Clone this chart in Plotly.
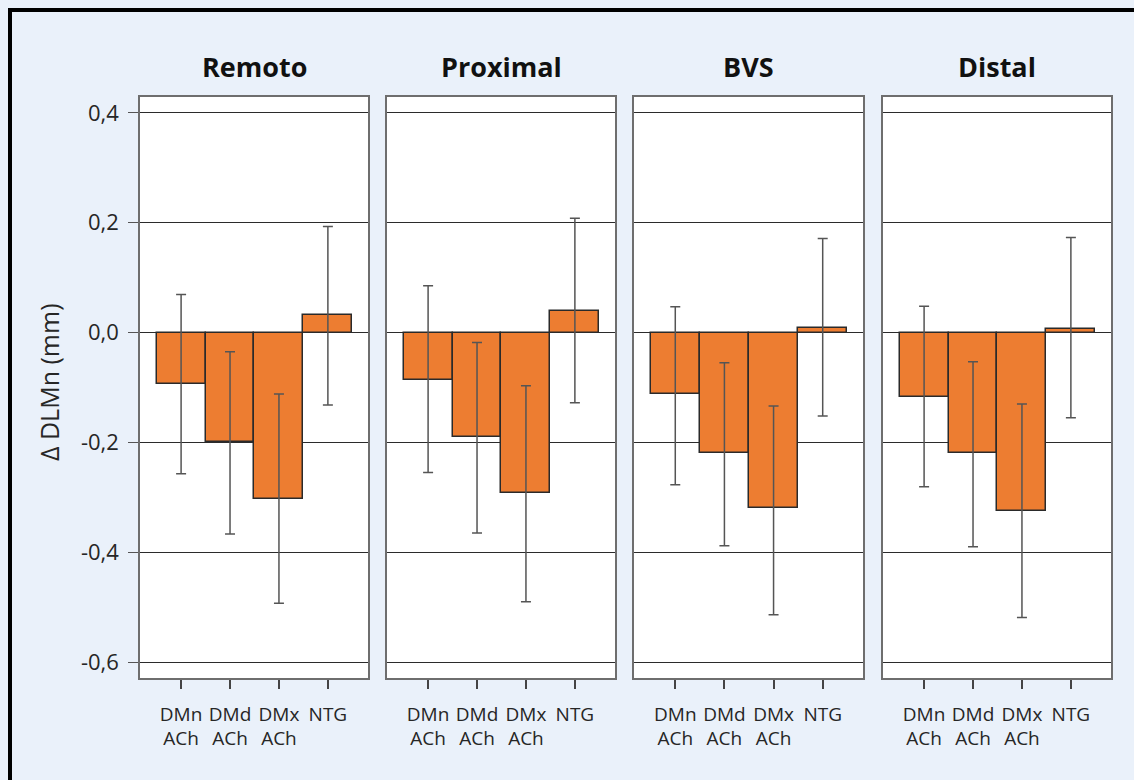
import plotly.graph_objects as go

# ---- data ----
panels = ["Remoto", "Proximal", "BVS", "Distal"]
categories = ["DMn<br>ACh", "DMd<br>ACh", "DMx<br>ACh", "NTG"]

remoto_mean = [-0.094, -0.200, -0.303, 0.031]
remoto_low = [-0.257, -0.367, -0.493, -0.132]
remoto_high = [0.069, -0.035, -0.112, 0.193]

proximal_mean = [-0.086, -0.191, -0.293, 0.040]
proximal_low = [-0.255, -0.365, -0.490, -0.128]
proximal_high = [0.085, -0.018, -0.097, 0.208]

bvs_mean = [-0.112, -0.219, -0.320, 0.009]
bvs_low = [-0.277, -0.388, -0.514, -0.152]
bvs_high = [0.047, -0.055, -0.134, 0.171]

distal_mean = [-0.117, -0.219, -0.325, 0.006]
distal_low = [-0.281, -0.390, -0.519, -0.155]
distal_high = [0.048, -0.053, -0.130, 0.173]

y_tickvals = [-0.6, -0.4, -0.2, 0.0, 0.2, 0.4]
y_ticktext = ["-0,6", "-0,4", "-0,2", "0,0", "0,2", "0,4"]
y_title = "Δ DLMn (mm)"

series = [
    (remoto_mean, remoto_low, remoto_high),
    (proximal_mean, proximal_low, proximal_high),
    (bvs_mean, bvs_low, bvs_high),
    (distal_mean, distal_low, distal_high),
]

# ---- layout geometry (pixels) ----
W, H = 1134, 780
L, R, T, B = 140, 23, 97, 102
PW = W - L - R
PH = H - T - B
panel_px = [(0, 228), (247, 475), (494, 723), (743, 971)]

FONT = "Open Sans"
BAR = "#ED7D31"
BG = "#EAF1FA"

fig = go.Figure()
xpos = list(range(len(categories)))

for i, (mean, lo, hi) in enumerate(series):
    up = [h - m for h, m in zip(hi, mean)]
    dn = [m - l for m, l in zip(mean, lo)]
    ax = "" if i == 0 else str(i + 1)
    fig.add_trace(go.Bar(
        x=xpos, y=mean, width=1.0,
        marker=dict(color=BAR, line=dict(color="#2a2a2a", width=1.5)),
        error_y=dict(type="data", symmetric=False, array=up, arrayminus=dn,
                     color="#555555", thickness=1.5, width=5),
        xaxis="x" + ax, yaxis="y" + ax, showlegend=False,
        hoverinfo="y",
    ))

layout = dict(
    width=W, height=H,
    margin=dict(l=L, r=R, t=T, b=B),
    paper_bgcolor=BG, plot_bgcolor="white",
    font=dict(family=FONT, color="#262626"),
    bargap=0,
    showlegend=False,
)

for i in range(4):
    ax = "" if i == 0 else str(i + 1)
    x0, x1 = panel_px[i]
    layout["xaxis" + ax] = dict(
        domain=[x0 / PW, x1 / PW], anchor="y" + ax,
        range=[-0.84, 3.82], tickvals=xpos, ticktext=categories,
        ticks="outside", ticklen=9, tickwidth=1.5, tickcolor="#444",
        ticklabelstandoff=9,
        tickfont=dict(size=19, color="#262626"),
        showline=True, mirror=True, linecolor="#6e6e6e", linewidth=1.5,
        showgrid=False, zeroline=False, fixedrange=True,
    )
    layout["yaxis" + ax] = dict(
        domain=[0, 1], anchor="x" + ax,
        range=[-0.629, 0.4288], tickvals=y_tickvals,
        ticktext=y_ticktext if i == 0 else None,
        showticklabels=(i == 0),
        ticks="outside" if i == 0 else "", ticklen=10, tickwidth=1.2, tickcolor="#555",
        ticklabelstandoff=5,
        tickfont=dict(size=22, color="#262626"),
        showline=True, mirror=True, linecolor="#6e6e6e", linewidth=1.5,
        showgrid=True, gridcolor="#2b2b2b", gridwidth=1,
        zeroline=False, fixedrange=True,
    )

fig.update_layout(**layout)

ann = []
for i, name in enumerate(panels):
    x0, x1 = panel_px[i]
    ann.append(dict(text="<b>" + name + "</b>", xref="paper", yref="paper",
                    x=(x0 + x1) / 2 / PW, y=1 + (T - 67) / PH,
                    xanchor="center", yanchor="middle", showarrow=False,
                    font=dict(size=27, family=FONT, color="#111")))
ann.append(dict(text=y_title, xref="paper", yref="paper",
                x=(49 - L) / PW, y=1 - (382 - T) / PH,
                xanchor="center", yanchor="middle", textangle=-90, showarrow=False,
                font=dict(size=25, family=FONT, color="#262626")))
fig.update_layout(annotations=ann)

# black frame on top and left edges of the picture
def px_x(p):
    return (p - L) / PW

def px_y(p):
    return 1 - (p - T) / PH

fig.update_layout(shapes=[
    dict(type="line", xref="paper", yref="paper", x0=px_x(10), x1=px_x(W + 5),
         y0=px_y(10), y1=px_y(10), line=dict(color="black", width=4)),
    dict(type="line", xref="paper", yref="paper", x0=px_x(10), x1=px_x(10),
         y0=px_y(8), y1=px_y(H + 5), line=dict(color="black", width=4)),
])

fig.write_html("out.html")
